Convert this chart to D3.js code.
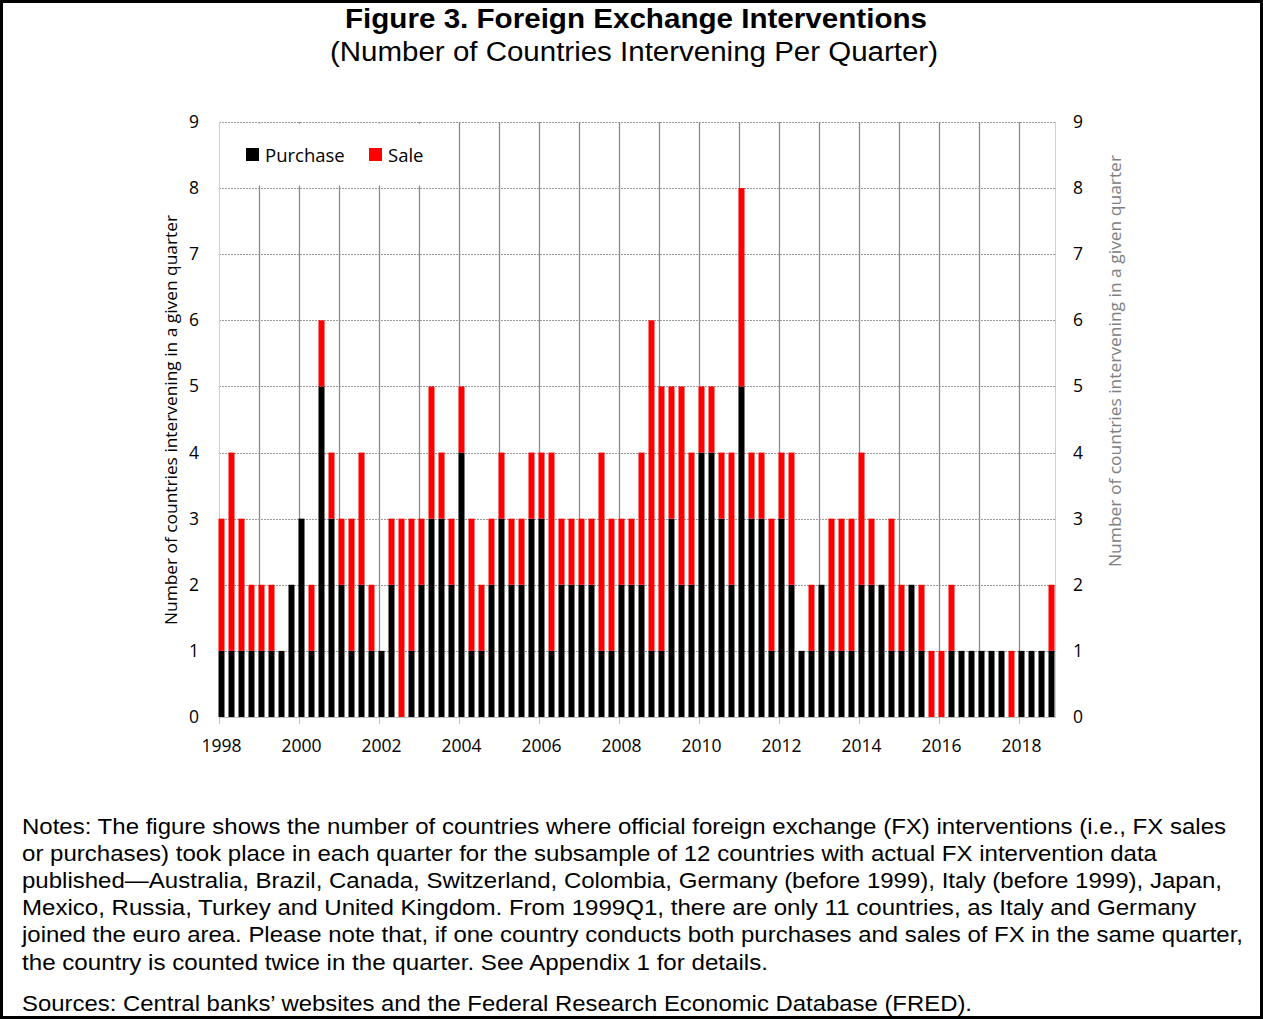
<!DOCTYPE html>
<html>
<head>
<meta charset="utf-8">
<script src="https://cdn.jsdelivr.net/npm/d3@7"></script>
<style>
  html, body { margin: 0; padding: 0; background: #fff; }
  svg { display: block; }
</style>
</head>
<body>
<svg id="chart" width="1263" height="1019"></svg>
<script>
// ---------- DATA ----------
const years = [1998,1999,2000,2001,2002,2003,2004,2005,2006,2007,2008,2009,2010,2011,2012,2013,2014,2015,2016,2017,2018];
const quarterNames = ["Q1","Q2","Q3","Q4"];
const yearTickLabels = ["1998","2000","2002","2004","2006","2008","2010","2012","2014","2016","2018"];
const yTicks = [0,1,2,3,4,5,6,7,8,9];

// number of countries purchasing FX per quarter (1998Q1 .. 2018Q4)
const purchase = [
  1,1,1,1, 1,1,1,2, 3,1,5,3, 2,1,2,1, 1,2,0,1, 2,3,3,2, 4,1,1,2,
  3,2,2,3, 3,1,2,2, 2,2,1,1, 2,2,2,1, 1,3,2,2, 4,4,3,2, 5,3,3,1,
  3,2,1,1, 2,1,1,1, 2,2,2,1, 1,2,1,0, 0,1,1,1, 1,1,1,0, 1,1,1,1
];
// number of countries selling FX per quarter
const sale = [
  2,3,2,1, 1,1,0,0, 0,1,1,1, 1,2,2,1, 0,1,3,2, 1,2,1,1, 1,2,1,1,
  1,1,1,1, 1,3,1,1, 1,1,3,2, 1,1,2,5, 4,2,3,2, 1,1,1,2, 3,1,1,2,
  1,2,0,1, 0,2,2,2, 2,1,0,2, 1,0,1,1, 1,1,0,0, 0,0,0,1, 0,0,0,1
];

const seriesNames = ["Purchase","Sale"];
const seriesColors = ["#000000","#ff0000"];

const titleText = "Figure 3. Foreign Exchange Interventions";
const subtitleText = "(Number of Countries Intervening Per Quarter)";
const yTitleText = "Number of countries intervening in a given quarter";
const noteLines = [
  "Notes: The figure shows the number of countries where official foreign exchange (FX) interventions (i.e., FX sales",
  "or purchases) took place in each quarter for the subsample of 12 countries with actual FX intervention data",
  "published\u2014Australia, Brazil, Canada, Switzerland, Colombia, Germany (before 1999), Italy (before 1999), Japan,",
  "Mexico, Russia, Turkey and United Kingdom. From 1999Q1, there are only 11 countries, as Italy and Germany",
  "joined the euro area. Please note that, if one country conducts both purchases and sales of FX in the same quarter,",
  "the country is counted twice in the quarter. See Appendix 1 for details."
];
const sourceText = "Sources: Central banks\u2019 websites and the Federal Research Economic Database (FRED).";

// ---------- BUILD ----------
const quarters = [];
years.forEach(y => quarterNames.forEach(q => quarters.push(y + q)));
const rows = quarters.map((q, i) => ({ q, Purchase: purchase[i], Sale: sale[i] }));

const svg = d3.select("#chart");
const W = 1263, H = 1019;
const plot = { left: 216.5, right: 1056.5, top: 122, bottom: 717 };

const x = d3.scaleBand().domain(quarters).range([plot.left, plot.right])
  .paddingInner(0.4).paddingOuter(0.2);
const y = d3.scaleLinear().domain([0, 9]).range([plot.bottom, plot.top]);

const fontUI = "'Open Sans', 'DejaVu Sans', sans-serif";
const fontArial = "'Liberation Sans', Arial, sans-serif";

// outer border
svg.append("rect").attr("x", 1.5).attr("y", 1.5).attr("width", W - 3).attr("height", H - 3)
  .attr("fill", "#fff").attr("stroke", "#000").attr("stroke-width", 3);

// titles
svg.append("text").attr("x", 636).attr("y", 28).attr("text-anchor", "middle")
  .attr("font-family", fontArial).attr("font-weight", "bold").attr("font-size", 28)
  .attr("textLength", 582).attr("lengthAdjust", "spacingAndGlyphs").text(titleText);
svg.append("text").attr("x", 634).attr("y", 61).attr("text-anchor", "middle")
  .attr("font-family", fontArial).attr("font-size", 27)
  .attr("textLength", 608).attr("lengthAdjust", "spacingAndGlyphs").text(subtitleText);

const xLeft = 219;
const xRight = 1055;

// horizontal dotted gridlines
svg.append("g").selectAll("line").data(yTicks.filter(d => d > 0)).join("line")
  .attr("x1", xLeft).attr("x2", xRight)
  .attr("y1", d => Math.round(y(d)) + 0.5).attr("y2", d => Math.round(y(d)) + 0.5)
  .attr("stroke", "#9a9a9a").attr("stroke-width", 1).attr("stroke-dasharray", "2,1");

// vertical yearly gridlines
const yearStarts = years.slice(1).map(yr => yr + "Q1");
svg.append("g").selectAll("line").data(yearStarts).join("line")
  .attr("x1", d => Math.round(x(d) + 0.5) + 0.5).attr("x2", d => Math.round(x(d) + 0.5) + 0.5)
  .attr("y1", plot.top).attr("y2", plot.bottom)
  .attr("stroke", "#8c8c8c").attr("stroke-width", 1.3);

// plot borders left/right
svg.append("line").attr("x1", xLeft + 0.5).attr("x2", xLeft + 0.5).attr("y1", plot.top).attr("y2", plot.bottom)
  .attr("stroke", "#d0d0d0");
svg.append("line").attr("x1", xRight + 0.5).attr("x2", xRight + 0.5).attr("y1", plot.top).attr("y2", plot.bottom)
  .attr("stroke", "#d0d0d0");

// legend background (covers gridlines)
svg.append("rect").attr("x", xLeft + 1).attr("y", plot.top + 1.5)
  .attr("width", 222).attr("height", 62).attr("fill", "#fff");

// stacked bars
const stack = d3.stack().keys(seriesNames)(rows);
const color = d3.scaleOrdinal().domain(seriesNames).range(seriesColors);
svg.append("g").selectAll("g").data(stack).join("g")
  .attr("fill", d => color(d.key))
  .selectAll("rect").data(d => d.filter(s => s[1] - s[0] > 0)).join("rect")
  .attr("x", d => x(d.data.q))
  .attr("width", x.bandwidth())
  .attr("y", d => y(d[1]))
  .attr("height", d => y(d[0]) - y(d[1]));

// x axis line
svg.append("line").attr("x1", xLeft).attr("x2", xRight + 1).attr("y1", plot.bottom + 0.5).attr("y2", plot.bottom + 0.5)
  .attr("stroke", "#bfbfbf").attr("stroke-width", 1);

// x axis ticks and labels
const xTickQs = yearTickLabels.map(l => l + "Q1");
svg.append("g").selectAll("line").data(xTickQs).join("line")
  .attr("x1", d => Math.round(x(d) + 0.5) + 0.5).attr("x2", d => Math.round(x(d) + 0.5) + 0.5)
  .attr("y1", plot.bottom).attr("y2", plot.bottom + 7)
  .attr("stroke", "#bfbfbf");
svg.append("g").selectAll("text").data(yearTickLabels).join("text")
  .attr("x", d => x(d + "Q1") + x.bandwidth() / 2)
  .attr("y", 752).attr("text-anchor", "middle")
  .attr("font-family", fontUI).attr("font-size", 17.5).attr("fill", "#000")
  .text(d => d);

// left y axis labels
svg.append("g").selectAll("text").data(yTicks).join("text")
  .attr("x", 199).attr("y", d => y(d) + 6).attr("text-anchor", "end")
  .attr("font-family", fontUI).attr("font-size", 17.5).text(d => d);
// right y axis labels
svg.append("g").selectAll("text").data(yTicks).join("text")
  .attr("x", 1073).attr("y", d => y(d) + 6).attr("text-anchor", "start")
  .attr("font-family", fontUI).attr("font-size", 17.5).text(d => d);

// axis titles
svg.append("text").attr("transform", "translate(177,420) rotate(-90)")
  .attr("text-anchor", "middle").attr("font-family", fontUI).attr("font-size", 16.5)
  .attr("textLength", 410).attr("lengthAdjust", "spacingAndGlyphs").text(yTitleText);
svg.append("text").attr("transform", "translate(1121,361) rotate(-90)")
  .attr("text-anchor", "middle").attr("font-family", fontUI).attr("font-size", 16.5)
  .attr("fill", "#808080")
  .attr("textLength", 412).attr("lengthAdjust", "spacingAndGlyphs").text(yTitleText);

// legend
const legendItems = [
  { name: seriesNames[0], sx: 246, tx: 265 },
  { name: seriesNames[1], sx: 369, tx: 388 }
];
const lg = svg.append("g");
lg.selectAll("rect").data(legendItems).join("rect")
  .attr("x", d => d.sx).attr("y", 148).attr("width", 13).attr("height", 13)
  .attr("fill", d => color(d.name));
lg.selectAll("text").data(legendItems).join("text")
  .attr("x", d => d.tx).attr("y", 161.5)
  .attr("font-family", fontUI).attr("font-size", 18.5).text(d => d.name);

// notes
const noteBaselines = [834, 861, 888, 915, 942, 970];
const noteWidths = [1204, 1135, 1200, 1174, 1221, 746];
svg.append("g").selectAll("text").data(noteLines).join("text")
  .attr("x", 22).attr("y", (d, i) => noteBaselines[i])
  .attr("font-family", fontArial).attr("font-size", 22)
  .attr("textLength", (d, i) => noteWidths[i]).attr("lengthAdjust", "spacingAndGlyphs")
  .text(d => d);
svg.append("text").attr("x", 22).attr("y", 1011)
  .attr("font-family", fontArial).attr("font-size", 22)
  .attr("textLength", 950).attr("lengthAdjust", "spacingAndGlyphs")
  .text(sourceText);
</script>
</body>
</html>
